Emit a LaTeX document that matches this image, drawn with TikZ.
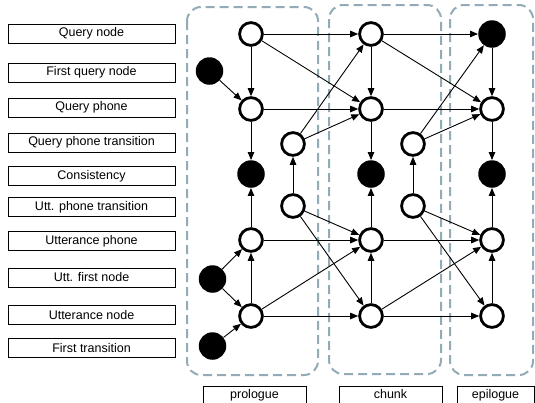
\documentclass[tikz,border=0pt]{standalone}
\usepackage{fontspec}
\setmainfont{Liberation Sans}
\usetikzlibrary{arrows.meta}
\definecolor{grpc}{HTML}{92ABB6}
\begin{document}
\begin{tikzpicture}[x=1pt,y=-1pt,
 wn/.style={circle,draw,line width=2.8pt,fill=white,minimum size=22.8pt,inner sep=0pt},
 bn/.style={circle,fill=black,minimum size=27.5pt,inner sep=0pt},
 lbl/.style={draw,line width=0.8pt,minimum width=167pt,minimum height=19pt,inner sep=0pt,font=\fontsize{12.5}{14}\selectfont},
 bbox/.style={draw,line width=0.8pt,minimum width=103pt,minimum height=30pt,inner sep=0pt,anchor=north west},
 btxt/.style={anchor=base,inner sep=0pt,font=\fontsize{12.5}{14}\selectfont},
 grp/.style={draw=grpc,dash pattern=on 9pt off 5pt,line width=2pt,rounded corners=14pt},
 ar/.style={-{Triangle[length=8pt,width=6.5pt]},line width=0.9pt}]
\useasboundingbox (0,0) rectangle (535,402);
\clip (0,0) rectangle (535,402);

% left labels
\node[lbl] (l1) at (91.5,33.5) {Query node};
\node[lbl] (l2) at (91.5,72.5) {First query node};
\node[lbl] (l3) at (91.5,107.5) {Query phone};
\node[lbl] (l4) at (91.5,142.5) {Query phone transition};
\node[lbl] (l5) at (91.5,176) {Consistency};
\node[lbl] (l6) at (91.5,207) {Utt. phone transition};
\node[lbl] (l7) at (91.5,241) {Utterance phone};
\node[lbl] (l8) at (91.5,277.5) {Utt. first node};
\node[lbl] (l9) at (91.5,315) {Utterance node};
\node[lbl] (l10) at (91.5,348) {First transition};

% groups
\draw[grp] (187,7) rectangle (318,375);
\draw[grp] (329,5) rectangle (441,374);
\draw[grp] (450,5) rectangle (533,375);

% bottom labels
\node[bbox] (bp) at (203,386) {};
\node[btxt] (tp) at (254.5,398.5) {prologue};
\node[bbox] (bc) at (339,386) {};
\node[btxt] (tc) at (390.5,398.5) {chunk};
\node[bbox,minimum width=77pt] (be) at (457,386) {};
\node[btxt] (te) at (495.5,398.5) {epilogue};

% prologue nodes
\node[wn] (pqn) at (251,34) {};
\node[bn] (pfq) at (209.5,71) {};
\node[wn] (pqp) at (251,109) {};
\node[wn] (pqt) at (293,144) {};
\node[bn] (pcs) at (251,174) {};
\node[wn] (put) at (293,206) {};
\node[wn] (pup) at (251,240) {};
\node[bn] (puf) at (212.5,279) {};
\node[wn] (pun) at (251,316) {};
\node[bn] (pft) at (212.5,346) {};
% chunk nodes
\node[wn] (cqn) at (371,34) {};
\node[wn] (cqp) at (371,109) {};
\node[wn] (cqt) at (413,144) {};
\node[bn] (ccs) at (371,174) {};
\node[wn] (cut) at (413,206) {};
\node[wn] (cup) at (371,240) {};
\node[wn] (cun) at (371,316) {};
% epilogue nodes
\node[bn] (eqn) at (492,34) {};
\node[wn] (eqp) at (492,109) {};
\node[bn] (ecs) at (492,174) {};
\node[wn] (eup) at (492,240) {};
\node[wn] (eun) at (492,316) {};

% prologue edges
\draw[ar] (pqn) -- (pqp);
\draw[ar] (pfq) -- (pqp);
\draw[ar] (pqp) -- (pcs);
\draw[ar] (pup) -- (pcs);
\draw[ar] (put) -- (pqt);
\draw[ar] (pun) -- (pup);
\draw[ar] (puf) -- (pup);
\draw[ar] (puf) -- (pun);
\draw[ar] (pft) -- (pun);
\draw[ar] (pqn) -- (cqn);
\draw[ar] (pqn) -- (cqp);
\draw[ar] (pqp) -- (cqp);
\draw[ar] (pqt) -- (cqn);
\draw[ar] (pqt) -- (cqp);
\draw[ar] (put) -- (cup);
\draw[ar] (put) -- (cun);
\draw[ar] (pup) -- (cup);
\draw[ar] (pun) -- (cup);
\draw[ar] (pun) -- (cun);
% chunk edges
\draw[ar] (cqn) -- (cqp);
\draw[ar] (cqp) -- (ccs);
\draw[ar] (cup) -- (ccs);
\draw[ar] (cun) -- (cup);
\draw[ar] (cut) -- (cqt);
\draw[ar] (cqn) -- (eqn);
\draw[ar] (cqn) -- (eqp);
\draw[ar] (cqp) -- (eqp);
\draw[ar] (cqt) -- (eqn);
\draw[ar] (cqt) -- (eqp);
\draw[ar] (cut) -- (eup);
\draw[ar] (cut) -- (eun);
\draw[ar] (cup) -- (eup);
\draw[ar] (cun) -- (eup);
\draw[ar] (cun) -- (eun);
% epilogue edges
\draw[ar] (eqn) -- (eqp);
\draw[ar] (eqp) -- (ecs);
\draw[ar] (eup) -- (ecs);
\draw[ar] (eun) -- (eup);
\end{tikzpicture}
\end{document}
